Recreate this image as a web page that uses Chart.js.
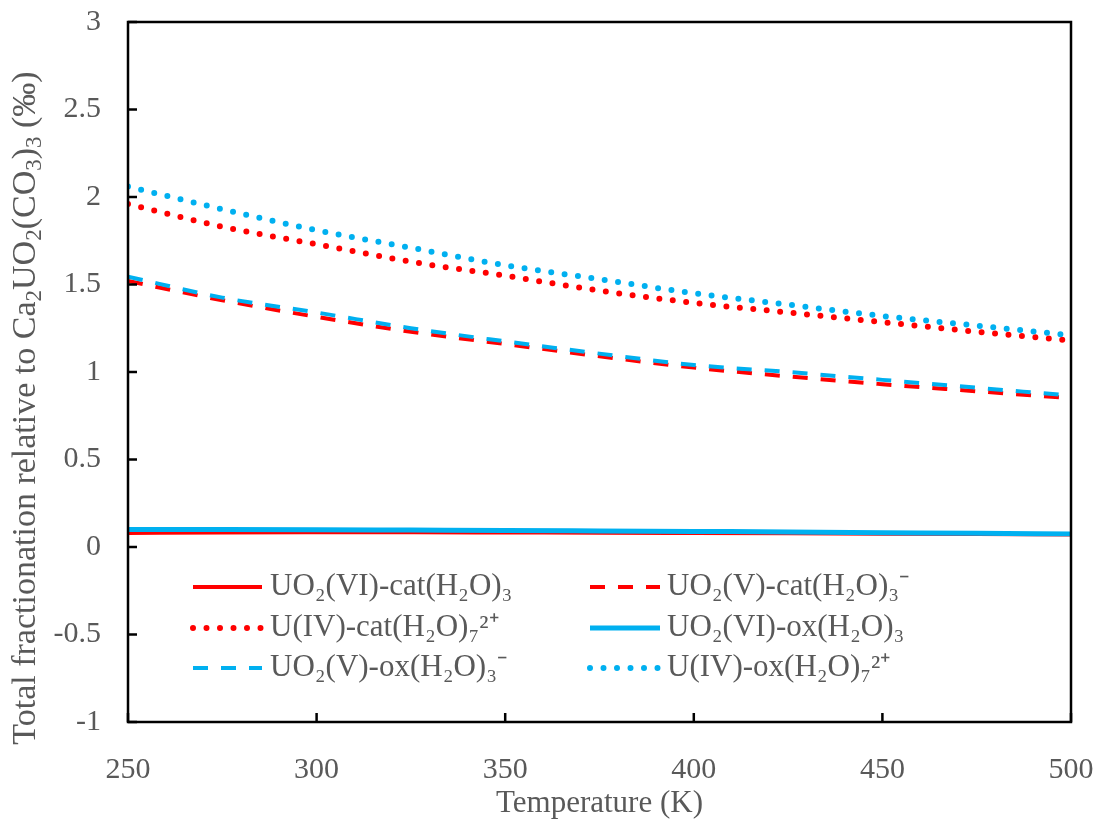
<!DOCTYPE html>
<html>
<head>
<meta charset="utf-8">
<title>Total fractionation vs temperature</title>
<script src="https://cdn.jsdelivr.net/npm/chart.js@4/dist/chart.umd.min.js"></script>
<style>
    html, body { margin: 0; padding: 0; background: #ffffff; }
    .chart-box { width: 1099px; height: 822px; }
</style>
</head>
<body>
<div class="chart-box"><canvas id="fractionation"></canvas></div>

<script>
    // temperatures (K) and the six species curves (per mil)
    const temperatures = [250, 275, 300, 325, 350, 375, 400, 425, 450, 475, 500];

    const uo2viCat = [0.080, 0.083, 0.084, 0.084, 0.083, 0.082, 0.080, 0.078, 0.076, 0.074, 0.072];
    const uo2vCat  = [1.52, 1.41, 1.315, 1.23, 1.16, 1.09, 1.025, 0.975, 0.93, 0.89, 0.85];
    const uivCat   = [1.96, 1.83, 1.73, 1.63, 1.55, 1.465, 1.395, 1.34, 1.285, 1.23, 1.18];
    const uo2viOx  = [0.100, 0.100, 0.099, 0.097, 0.095, 0.092, 0.089, 0.086, 0.082, 0.078, 0.075];
    const uo2vOx   = [1.545, 1.425, 1.34, 1.25, 1.175, 1.105, 1.04, 1.0, 0.955, 0.91, 0.865];
    const uivOx    = [2.06, 1.93, 1.81, 1.71, 1.61, 1.53, 1.45, 1.385, 1.32, 1.265, 1.21];

    const seriesLabels = [
        'UO₂(VI)-cat(H₂O)₃',
        'UO₂(V)-cat(H₂O)₃⁻',
        'U(IV)-cat(H₂O)₇²⁺',
        'UO₂(VI)-ox(H₂O)₃',
        'UO₂(V)-ox(H₂O)₃⁻',
        'U(IV)-ox(H₂O)₇²⁺'
    ];

    const xTicks = [250, 300, 350, 400, 450, 500];
    const yTicks = [-1, -0.5, 0, 0.5, 1, 1.5, 2, 2.5, 3];

    const xTitle = 'Temperature (K)';
    // y title pieces: [text, isSubscript]
    const yTitleParts = [
        ['Total fractionation relative to Ca', false], ['2', true],
        ['UO', false], ['2', true],
        ['(CO', false], ['3', true],
        [')', false], ['3', true],
        [' (‰)', false]
    ];

    const RED = '#ff0000';
    const BLUE = '#00b0f0';
    const GREY = '#595959';
    const FONT = '"Liberation Serif", "Times New Roman", serif';

    const solid = [];
    const dashed = [15, 13];
    const dotted = [0, 13.5];

    function series(label, values, color, dash, width, order) {
        return {
            label: label,
            data: temperatures.map((t, i) => ({ x: t, y: values[i] })),
            borderColor: color,
            backgroundColor: color,
            borderWidth: width,
            borderDash: dash,
            borderCapStyle: dash === dotted ? 'round' : 'butt',
            pointRadius: 0,
            pointHoverRadius: 0,
            cubicInterpolationMode: 'monotone',
            fill: false,
            order: order
        };
    }

    // legend drawn inside the plot, two columns, rows in dataset order
    const insideLegend = {
        id: 'insideLegend',
        afterDraw(chart) {
            const ctx = chart.ctx;
            const cols = [{ x0: 193, x1: 262, tx: 270 }, { x0: 590, x1: 660, tx: 667 }];
            const rows = [587, 628, 668];
            ctx.save();
            chart.data.datasets.forEach((ds, i) => {
                const c = cols[i % 2];
                const y = rows[Math.floor(i / 2)];
                ctx.beginPath();
                ctx.strokeStyle = ds.borderColor;
                ctx.lineWidth = ds.borderWidth;
                ctx.lineCap = ds.borderCapStyle;
                ctx.setLineDash(ds.borderDash);
                ctx.moveTo(c.x0, y);
                ctx.lineTo(c.x1, y);
                ctx.stroke();
                ctx.setLineDash([]);
                ctx.fillStyle = GREY;
                ctx.font = '31px ' + FONT;
                ctx.textBaseline = 'middle';
                ctx.textAlign = 'left';
                ctx.fillText(ds.label, c.tx, y);
            });
            ctx.restore();
        }
    };

    // box around the plot with inward tick marks, plus the y title
    const frameTicks = {
        id: 'frameTicks',
        afterDraw(chart) {
            const ctx = chart.ctx;
            const a = chart.chartArea;
            const xs = chart.scales.x;
            const ys = chart.scales.y;
            ctx.save();
            ctx.strokeStyle = '#000000';
            ctx.lineWidth = 2.5;
            ctx.setLineDash([]);
            ctx.strokeRect(a.left, a.top, a.right - a.left, a.bottom - a.top);
            ctx.beginPath();
            xs.ticks.forEach(t => {
                const px = xs.getPixelForValue(t.value);
                ctx.moveTo(px, a.bottom);
                ctx.lineTo(px, a.bottom - 9);
            });
            ys.ticks.forEach(t => {
                const py = ys.getPixelForValue(t.value);
                ctx.moveTo(a.left, py);
                ctx.lineTo(a.left + 9, py);
            });
            ctx.stroke();

            // rotated y title with real subscripts
            const mainFont = '34px ' + FONT;
            const subFont = '23px ' + FONT;
            let total = 0;
            yTitleParts.forEach(([txt, sub]) => {
                ctx.font = sub ? subFont : mainFont;
                total += ctx.measureText(txt).width;
            });
            ctx.translate(24, 408);
            ctx.rotate(-Math.PI / 2);
            ctx.fillStyle = GREY;
            ctx.textAlign = 'left';
            ctx.textBaseline = 'alphabetic';
            let x = -total / 2;
            yTitleParts.forEach(([txt, sub]) => {
                ctx.font = sub ? subFont : mainFont;
                ctx.fillText(txt, x, sub ? 17 : 11);
                x += ctx.measureText(txt).width;
            });
            ctx.restore();
        }
    };

    new Chart(document.getElementById('fractionation'), {
        type: 'line',
        data: {
            datasets: [
                series(seriesLabels[0], uo2viCat, RED, solid, 4, 2),
                series(seriesLabels[1], uo2vCat, RED, dashed, 4, 2),
                series(seriesLabels[2], uivCat, RED, dotted, 6, 2),
                series(seriesLabels[3], uo2viOx, BLUE, solid, 5, 1),
                series(seriesLabels[4], uo2vOx, BLUE, dashed, 4, 1),
                series(seriesLabels[5], uivOx, BLUE, dotted, 6, 1)
            ]
        },
        options: {
            responsive: true,
            maintainAspectRatio: false,
            animation: false,
            events: [],
            layout: { padding: { top: 22, right: 28, left: 0, bottom: 0 } },
            plugins: {
                legend: { display: false },
                tooltip: { enabled: false }
            },
            scales: {
                x: {
                    type: 'linear',
                    min: 250,
                    max: 500,
                    afterFit(scale) {
                        scale.height = 100;
                        scale.paddingLeft = 0;
                        scale.paddingRight = 0;
                    },
                    afterBuildTicks(scale) { scale.ticks = xTicks.map(v => ({ value: v })); },
                    grid: { display: false, drawTicks: false },
                    border: { display: false },
                    ticks: {
                        color: GREY,
                        font: { family: FONT, size: 30 },
                        padding: 30,
                        maxRotation: 0,
                        callback: v => String(v)
                    },
                    title: {
                        display: true,
                        text: xTitle,
                        color: GREY,
                        font: { family: FONT, size: 31 },
                        padding: { top: 0, bottom: 0 }
                    }
                },
                y: {
                    type: 'linear',
                    min: -1,
                    max: 3,
                    afterFit(scale) {
                        scale.width = 128;
                        scale.paddingTop = 0;
                        scale.paddingBottom = 0;
                    },
                    afterBuildTicks(scale) { scale.ticks = yTicks.map(v => ({ value: v })); },
                    grid: { display: false, drawTicks: false },
                    border: { display: false },
                    ticks: {
                        color: GREY,
                        font: { family: FONT, size: 30 },
                        padding: 27,
                        callback: v => String(v)
                    },
                    title: { display: false }
                }
            }
        },
        plugins: [insideLegend, frameTicks]
    });
</script>
</body>
</html>
